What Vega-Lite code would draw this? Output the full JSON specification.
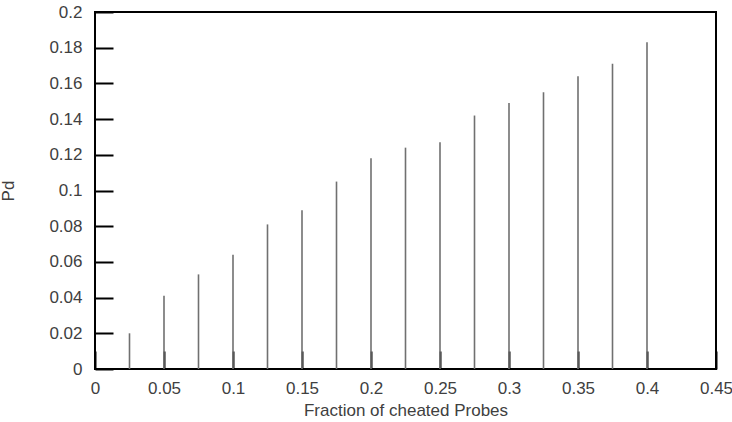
{
  "$schema": "https://vega.github.io/schema/vega-lite/v6.json",
  "autosize": "none",
  "width": 621,
  "height": 357,
  "padding": {"left": 95, "top": 12, "right": 16, "bottom": 53},
  "background": "white",
  "config": {
    "view": {"stroke": "black", "strokeWidth": 2},
    "font": "Liberation Sans",
    "axis": {
      "grid": false,
      "domain": false,
      "zindex": 1,
      "tickColor": "black",
      "tickWidth": 2,
      "tickSize": -18,
      "labelFont": "Liberation Sans",
      "labelFontSize": 17,
      "labelColor": "#404040",
      "titleFont": "Liberation Sans",
      "titleFontSize": 17,
      "titleFontWeight": "normal",
      "titleColor": "#404040"
    }
  },
  "data": {
    "values": [
      {"fraction": 0.025, "pd": 0.020},
      {"fraction": 0.05, "pd": 0.041},
      {"fraction": 0.075, "pd": 0.053},
      {"fraction": 0.1, "pd": 0.064},
      {"fraction": 0.125, "pd": 0.081},
      {"fraction": 0.15, "pd": 0.089},
      {"fraction": 0.175, "pd": 0.105},
      {"fraction": 0.2, "pd": 0.118},
      {"fraction": 0.225, "pd": 0.124},
      {"fraction": 0.25, "pd": 0.127},
      {"fraction": 0.275, "pd": 0.142},
      {"fraction": 0.3, "pd": 0.149},
      {"fraction": 0.325, "pd": 0.155},
      {"fraction": 0.35, "pd": 0.164},
      {"fraction": 0.375, "pd": 0.171},
      {"fraction": 0.4, "pd": 0.183}
    ]
  },
  "mark": {"type": "rule", "color": "#707070", "strokeWidth": 1.6},
  "encoding": {
    "x": {
      "field": "fraction",
      "type": "quantitative",
      "scale": {"domain": [0, 0.45], "nice": false, "zero": true},
      "axis": {
        "title": "Fraction of cheated Probes",
        "values": [0, 0.05, 0.1, 0.15, 0.2, 0.25, 0.3, 0.35, 0.4, 0.45],
        "format": "~g",
        "labelPadding": 29,
        "titlePadding": 6,
        "labelFlush": false,
        "labelOverlap": false
      }
    },
    "y": {
      "field": "pd",
      "type": "quantitative",
      "scale": {"domain": [0, 0.2], "nice": false},
      "axis": {
        "title": "Pd",
        "values": [0, 0.02, 0.04, 0.06, 0.08, 0.1, 0.12, 0.14, 0.16, 0.18, 0.2],
        "format": "~g",
        "labelPadding": 31,
        "titlePadding": 31,
        "labelFlush": false,
        "labelOverlap": false
      }
    },
    "y2": {"datum": 0}
  }
}
